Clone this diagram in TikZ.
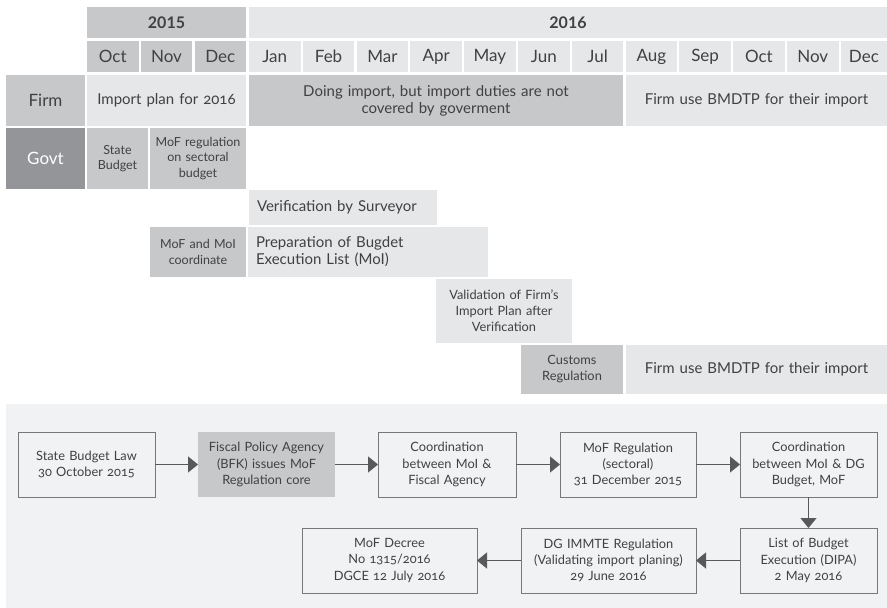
\documentclass[tikz,border=0pt]{standalone}
\usepackage{fontspec}
\setmainfont{Lato}[Numbers=OldStyle]
\newfontfamily\hdfont{Lato}[Numbers=Lining]
\usetikzlibrary{arrows.meta}
\definecolor{lg}{HTML}{E6E7E8}
\definecolor{mg}{HTML}{C7C8CA}
\definecolor{dg}{HTML}{939598}
\definecolor{bgc}{HTML}{F1F2F4}
\definecolor{txt}{HTML}{414042}
\definecolor{bord}{HTML}{77787B}
\definecolor{arr}{HTML}{58595B}
\newcommand\fsH{\hdfont\bfseries\fontsize{16}{18}\selectfont}
\newcommand\fsM{\fontsize{17}{19}\selectfont}
\newcommand\fsL{\fontsize{17}{19}\selectfont}
\newcommand\fsB{\fontsize{15}{17}\selectfont}
\newcommand\fsP{\fontsize{15}{17}\selectfont}
\newcommand\fsS{\fontsize{12.5}{15.5}\selectfont}
\newcommand\fsV{\fontsize{12.8}{16}\selectfont}
\newcommand\fsX{\fontsize{12.8}{16.3}\selectfont}
% centred cell: [opts]{name}{x}{y}{w}{h}{text}
\newcommand\cellC[7][]{\pgfmathsetmacro\tw{#5-6}%
  \node[cellbox,#1,minimum width=#5pt,minimum height=#6pt,text width=\tw pt] (#2) at (#3,#4) {#7};}
% left-aligned cell
\newcommand\cellL[7][]{\pgfmathsetmacro\tw{#5-16}%
  \node[cellbox,align=left,inner xsep=8pt,#1,minimum width=#5pt,minimum height=#6pt,text width=\tw pt] (#2) at (#3,#4) {#7};}
\begin{document}
\begin{tikzpicture}[x=1pt,y=-1pt,
  cellbox/.style={anchor=north west,inner xsep=3pt,inner ysep=0pt,outer sep=0pt,align=center,text=txt,font=\fsB},
  flowbox/.style={anchor=north west,draw=bord,line width=1pt,inner xsep=4pt,inner ysep=0pt,outer sep=0pt,
    align=center,text=txt,font=\fsX,minimum height=65pt},
  flowarrow/.style={draw=arr,line width=1.4pt,-{Triangle[length=10pt,width=16pt]}}]
\useasboundingbox (0,0) rectangle (887,608);
% year headers
\cellC[fill=mg,font=\fsH]{y15}{87}{7}{159}{31}{2015}
\cellC[fill=lg,font=\fsH]{y16}{249}{7}{638}{31}{2016}
% months 2015
\cellC[fill=mg,font=\fsM]{m1}{87}{41}{51.5}{31}{Oct}
\cellC[fill=mg,font=\fsM]{m2}{140.8}{41}{51.5}{31}{Nov}
\cellC[fill=mg,font=\fsM]{m3}{194.6}{41}{51.5}{31}{Dec}
% months 2016
\cellC[fill=lg,font=\fsM]{n1}{249}{41}{51.5}{31}{Jan}
\cellC[fill=lg,font=\fsM]{n2}{302.8}{41}{51.5}{31}{Feb}
\cellC[fill=lg,font=\fsM]{n3}{356.6}{41}{51.5}{31}{Mar}
\cellC[fill=lg,font=\fsM]{n4}{410.4}{41}{51.5}{31}{Apr}
\cellC[fill=lg,font=\fsM]{n5}{464.2}{41}{51.5}{31}{May}
\cellC[fill=lg,font=\fsM]{n6}{518}{41}{51.5}{31}{Jun}
\cellC[fill=lg,font=\fsM]{n7}{571.8}{41}{51.5}{31}{Jul}
\cellC[fill=lg,font=\fsM]{n8}{625.6}{41}{51.5}{31}{Aug}
\cellC[fill=lg,font=\fsM]{n9}{679.4}{41}{51.5}{31}{Sep}
\cellC[fill=lg,font=\fsM]{n10}{733.2}{41}{51.5}{31}{Oct}
\cellC[fill=lg,font=\fsM]{n11}{787}{41}{51.5}{31}{Nov}
\cellC[fill=lg,font=\fsM]{n12}{840.8}{41}{46.2}{31}{Dec}
% firm row
\cellC[fill=mg,font=\fsL]{firm}{6}{75}{79}{51}{Firm}
\cellC[fill=lg]{fplan}{87}{75}{159}{51}{Import plan for 2016}
\cellC[fill=mg]{fdo}{249}{75}{374}{51}{Doing import, but import duties are not\\covered by goverment}
\cellC[fill=lg]{fuse}{626}{75}{261}{51}{Firm use BMDTP for their import}
% govt row
\cellC[fill=dg,font=\fsL,text=white]{govt}{6}{128}{79}{61}{Govt}
\cellC[fill=mg,font=\fsS]{gsb}{87}{128}{61}{61}{State\\Budget}
\cellC[fill=mg,font=\fsS]{gmof}{150}{128}{96}{61}{MoF regulation\\on sectoral\\budget}
% lower rows
\cellL[fill=lg,font=\fsP]{ver}{249}{190}{188}{35}{Verification by Surveyor}
\cellC[fill=mg,font=\fsS]{coord}{150}{227}{96}{50}{MoF and MoI\\coordinate}
\cellL[fill=lg,font=\fsP]{prep}{248}{227}{240}{50}{Preparation of Bugdet\\Execution List (MoI)}
\cellC[fill=lg,font=\fsV]{valid}{436}{279}{136}{64}{Validation of Firm’s\\Import Plan after\\Verification}
\cellC[fill=mg,font=\fsV]{cust}{521}{345}{102}{49}{Customs\\Regulation}
\cellC[fill=lg]{fuse2}{626}{345}{261}{49}{Firm use BMDTP for their import}
% flow panel
\fill[bgc] (6,404) rectangle (887,608);
\node[flowbox,minimum width=137pt,text width=129pt] (b1) at (18,432) {State Budget Law\\30 October 2015};
\node[flowbox,draw=none,fill=mg,minimum width=137pt,text width=129pt] (b2) at (198,432) {Fiscal Policy Agency\\(BFK) issues MoF\\Regulation core};
\node[flowbox,minimum width=138pt,text width=130pt] (b3) at (378,432) {Coordination\\between MoI \&\\Fiscal Agency};
\node[flowbox,minimum width=136pt,text width=128pt] (b4) at (560,432) {MoF Regulation\\(sectoral)\\31 December 2015};
\node[flowbox,minimum width=137pt,text width=129pt] (b5) at (740,432) {Coordination\\between MoI \& DG\\Budget, MoF};
\node[flowbox,minimum width=137pt,text width=129pt] (b6) at (740,528) {List of Budget\\Execution (DIPA)\\2 May 2016};
\node[flowbox,minimum width=175pt,text width=167pt] (b7) at (521,528) {DG IMMTE Regulation\\(Validating import planing)\\29 June 2016};
\node[flowbox,minimum width=175pt,text width=167pt] (b8) at (302,528) {MoF Decree\\No 1315/2016\\DGCE 12 July 2016};
\draw[flowarrow] (b1) -- (b2);
\draw[flowarrow] (b2) -- (b3);
\draw[flowarrow] (b3) -- (b4);
\draw[flowarrow] (b4) -- (b5);
\draw[flowarrow] (b5) -- (b6);
\draw[flowarrow] (b6) -- (b7);
\draw[flowarrow] (b7) -- (b8);
\end{tikzpicture}
\end{document}
